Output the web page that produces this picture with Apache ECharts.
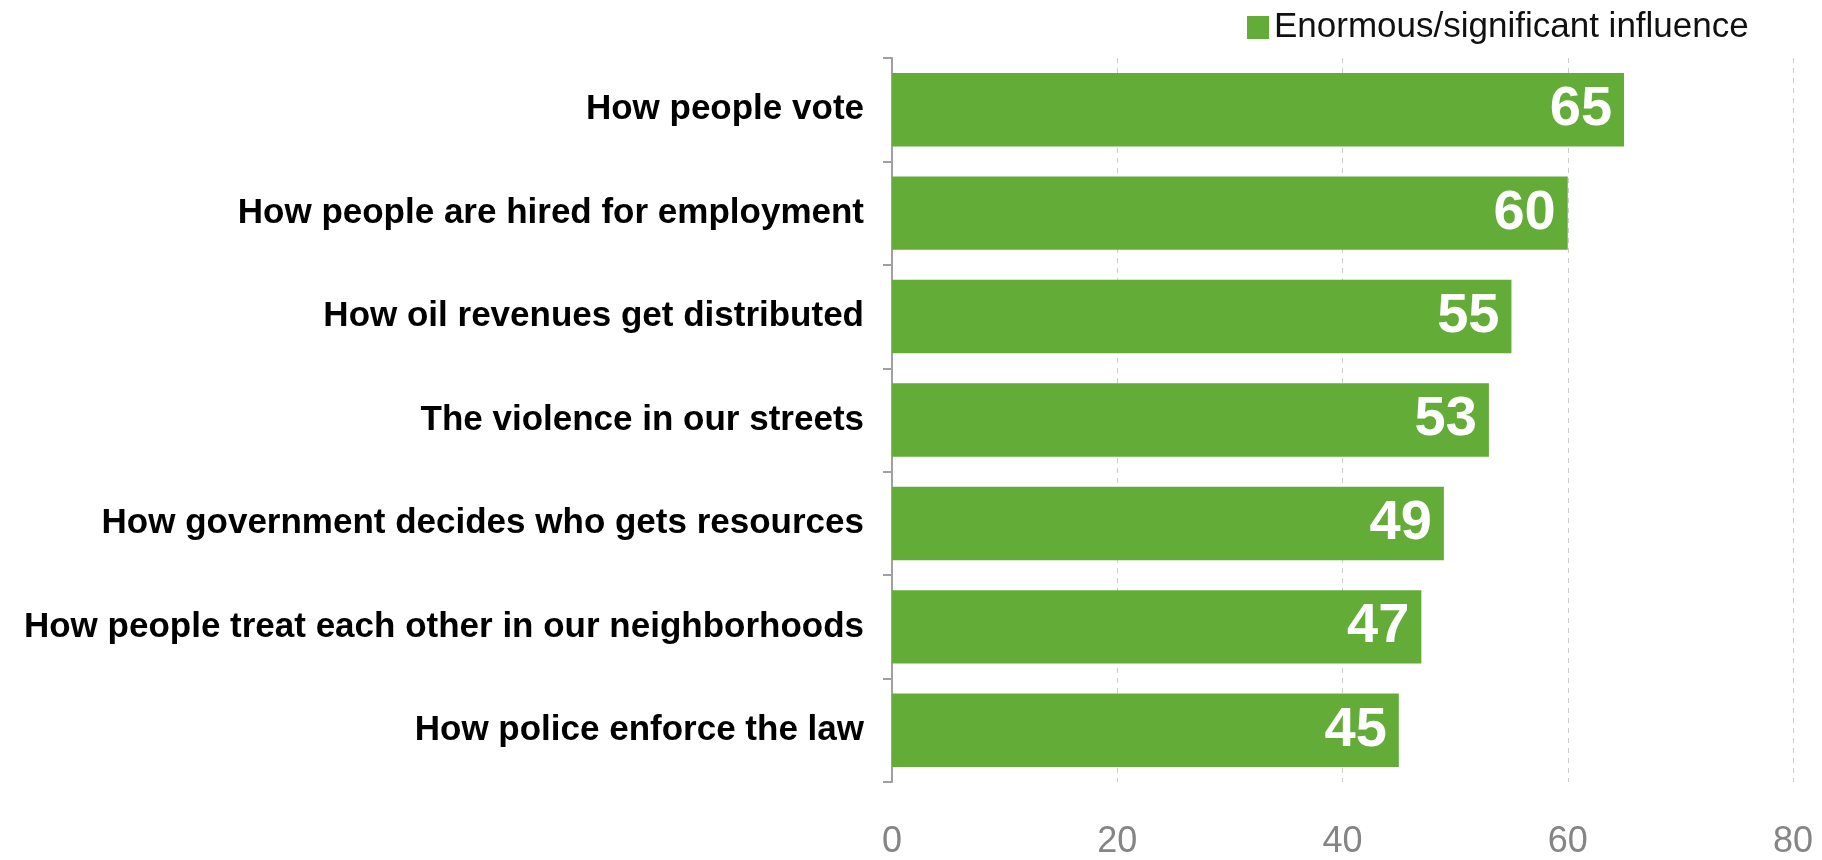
<!DOCTYPE html>
<html>
<head>
<meta charset="utf-8">
<script src="https://cdn.jsdelivr.net/npm/echarts@6/dist/echarts.min.js"></script>
<style>
  html, body { margin: 0; padding: 0; background: #ffffff; }
  #chart { width: 1822px; height: 860px; }
</style>
</head>
<body>
<div id="chart"></div>
<script>
// Survey items, top to bottom
const categories = [
  'How people vote',
  'How people are hired for employment',
  'How oil revenues get distributed',
  'The violence in our streets',
  'How government decides who gets resources',
  'How people treat each other in our neighborhoods',
  'How police enforce the law'
];
// Share answering "enormous/significant influence"
const influenceValues = [65, 60, 55, 53, 49, 47, 45];
const seriesName = 'Enormous/significant influence';
const xTicks = [0, 20, 40, 60, 80];

const FONT = '"Liberation Sans", Arial, Helvetica, sans-serif';
const GREEN = '#62ac37';

const chart = echarts.init(document.getElementById('chart'));
chart.setOption({
  animation: false,
  backgroundColor: '#ffffff',
  legend: {
    data: [seriesName],
    left: 1242,
    top: 5,
    icon: 'rect',
    itemWidth: 22,
    itemHeight: 23,
    itemGap: 10,
    textStyle: { fontFamily: FONT, fontSize: 35, color: '#111111' }
  },
  grid: { left: 892, right: 29, top: 58, bottom: 74, containLabel: false },
  xAxis: {
    type: 'value',
    min: xTicks[0],
    max: xTicks[xTicks.length - 1],
    interval: xTicks[1] - xTicks[0],
    axisLine: { show: false },
    axisTick: { show: false },
    axisLabel: {
      margin: 42,
      fontFamily: FONT,
      fontSize: 36,
      color: '#858585'
    },
    splitLine: {
      show: true,
      lineStyle: { color: '#cccccc', width: 1, type: [5, 5] }
    }
  },
  yAxis: {
    type: 'category',
    data: categories,
    inverse: true,
    axisLine: { show: true, lineStyle: { color: '#a0a0a0', width: 2 } },
    axisTick: { show: true, length: 9, lineStyle: { color: '#a0a0a0', width: 2 } },
    axisLabel: {
      margin: 28,
      fontFamily: FONT,
      fontSize: 35,
      fontWeight: 'bold',
      color: '#000000'
    }
  },
  series: [{
    name: seriesName,
    type: 'bar',
    data: influenceValues,
    barCategoryGap: '29%',
    itemStyle: { color: GREEN },
    label: {
      show: true,
      position: 'insideRight',
      distance: 12,
      fontFamily: FONT,
      fontSize: 56,
      fontWeight: 'bold',
      color: '#ffffff'
    }
  }]
});
</script>
</body>
</html>
